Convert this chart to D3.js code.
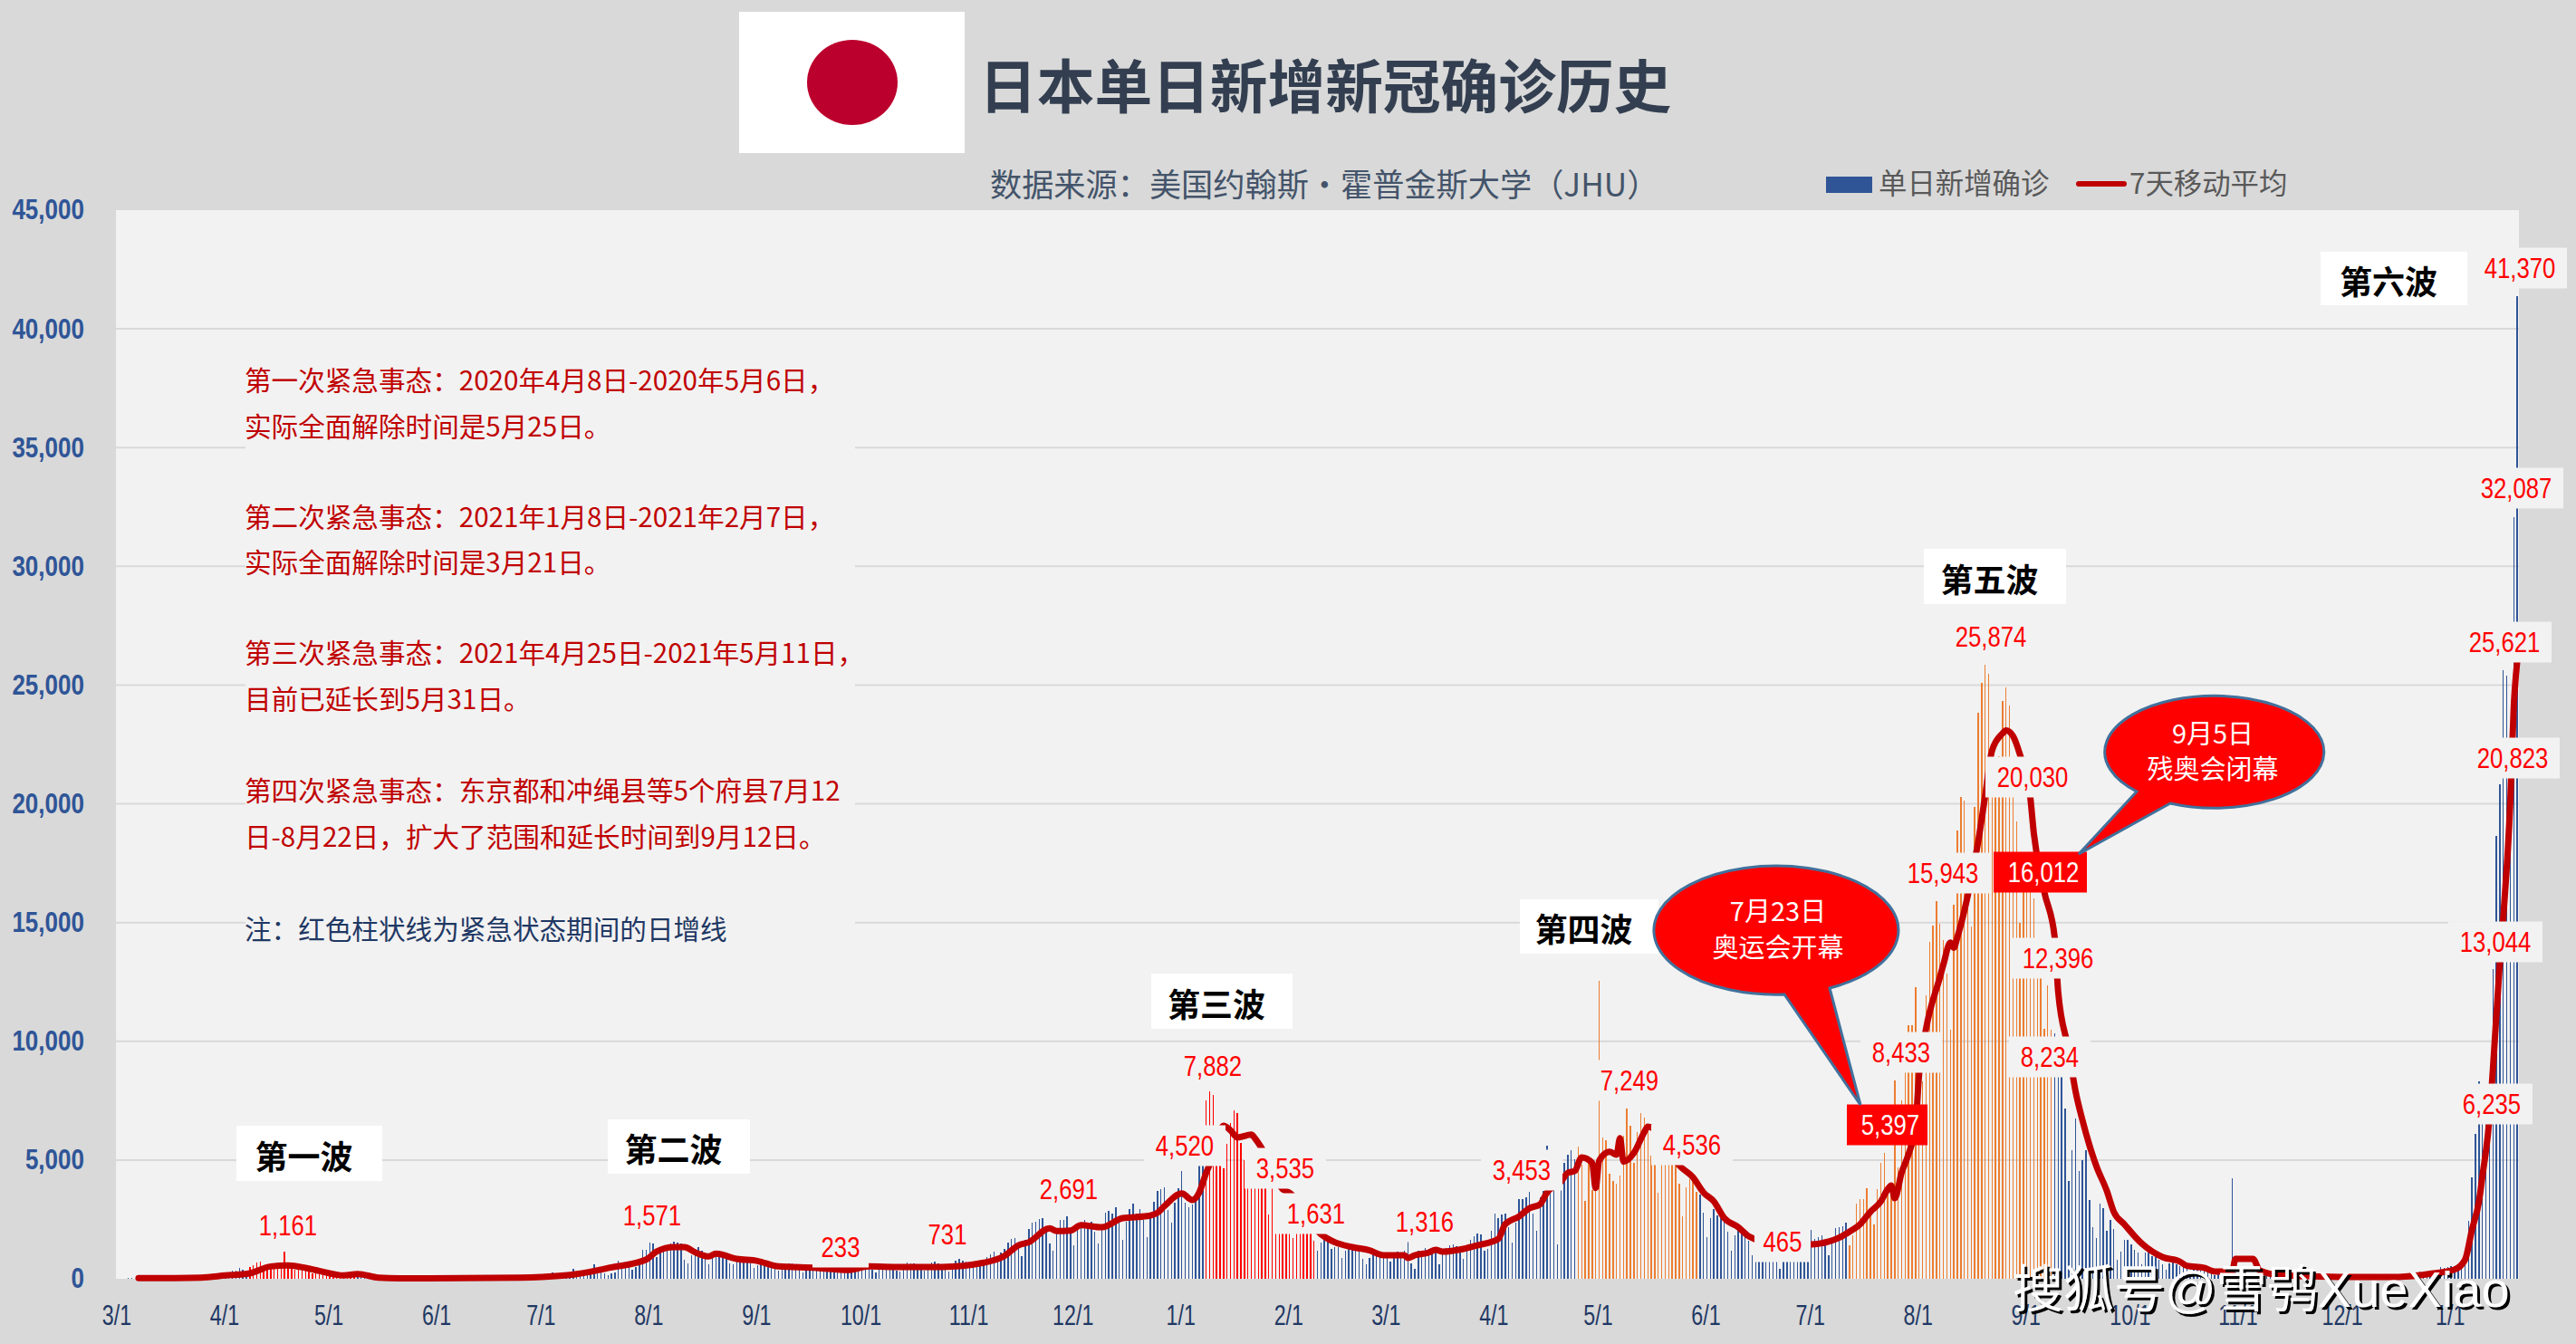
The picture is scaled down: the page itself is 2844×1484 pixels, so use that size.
<!DOCTYPE html>
<html>
<head>
<meta charset="utf-8">
<script src="https://cdn.jsdelivr.net/npm/d3@7"></script>
<style>
  html,body { margin:0; padding:0; background:#d9d9d9; }
  svg { display:block; }
  text { font-family:"Liberation Sans","Noto Sans CJK SC",sans-serif; }
  .cjk { font-family:"Noto Sans CJK SC",sans-serif; }
</style>
</head>
<body>
<svg></svg>
<script>
// daily new cases
const mar20 = [0,10,15,20,25,10,30,25,20,30,50,55,40,60,30,15,40,40,35,45,40,35,40,60,70,90,110,115,140,90,220];
const apr20 = [240,270,330,360,450,380,250,500,580,700,720,520,400,490,550,580,620,1161,620,420,370,390,430,380,340,240,210,230,240,220];
const may20 = [190,240,200,130,90,100,120,100,90,100,90,60,50,60,50,40,30,30,25,20,25,20,30,20,25,20,25,30,40,40,50];
const jun20 = [40,35,40,40,35,35,30,25,25,30,40,45,40,45,50,45,45,50,60,60,55,45,55,60,70,70,90,100,85,90];
const jul20 = [110,120,190,260,130,100,190,200,230,430,220,140,150,180,420,620,450,260,240,150,230,260,780,540,580,480,380,500,850,1230,1220];
const aug20 = [1510,1480,900,1240,1350,1400,1480,1571,1530,1480,800,650,1000,1100,1320,1180,820,600,1000,1150,1180,1020,950,650,620,850,900,880,800,640,450];
const sep20 = [560,750,780,690,660,580,330,540,600,640,660,580,480,270,450,560,610,590,560,490,310,290,330,540,620,520,480,260,450,580];
const oct20 = [640,580,590,380,280,520,600,620,590,510,360,300,520,680,650,660,530,380,340,540,680,720,650,580,420,320,620,780,820,780,720];
const nov20 = [600,480,650,620,700,900,1020,1150,760,1100,1250,1530,1660,1720,1440,950,1650,2100,2350,2400,2500,2555,2000,1480,1200,2000,2480,2480,2620,1980];
const dec20 = [1420,2060,2350,2480,2350,2420,2000,1500,2200,2790,2870,2750,3020,2370,1630,2410,2940,3170,2750,2940,2480,1750,2550,3240,3690,3760,3860,2900,2370,3190,3825];
const jan21 = [4520,3190,3000,3130,3280,5000,5500,7510,7882,7740,6200,5000,4650,5670,6560,7100,6980,5730,5000,5000,5000,5000,5000,5000,5000,2700,4500,3000,3000,2700,2700];
const feb21 = [2000,1700,2400,2600,2400,2300,2000,1600,1200,1530,1790,1600,1260,1340,1340,895,1200,1300,1240,1350,1230,830,600,870,1050,1090,1080,960];
const mar21 = [1010,720,1020,1150,1100,1170,1560,650,430,1180,1200,1290,1270,1210,1170,620,1100,1300,1400,1450,1380,1150,820,1300,1650,1800,1900,1850,1200,1270,2030];
const apr21 = [2760,2540,2695,2730,2160,1510,2350,3370,3370,3430,3650,2730,2030,3430,3690,5590,4600,4300,1460,4770,4890,5240,5430,5050,5550,4800,3270,5000,3720,4300];
const may21 = [12530,5940,5850,4410,4130,4000,4360,6010,7180,6440,4870,6190,6990,6800,6160,5200,5000,3620,5100,5300,5200,5000,5000,4000,2640,3850,4190,4280,3650,3560,2800];
const jun21 = [1740,2570,2920,2670,2540,2410,1970,1170,1820,2030,1900,1780,1590,1000,1200,1500,1700,1800,1600,1400,1000,420,1300,1600,1700,1650,1500,1000,1400,1700];
const jul21 = [2070,1690,1740,1820,1400,980,1525,2120,2160,2220,2380,1400,1840,3150,3360,3360,3815,2800,2275,3760,4865,5300,3850,3675,8365,4700,7525,9000,10675,10675,12285];
const aug21 = [9000,8300,11935,14175,14875,15890,14960,14260,12860,10500,15750,18860,20300,20125,17000,14840,19860,23850,25110,25874,25460,21000,21000,22000,24325,24920,24150,21500,19250,15000,16500];
const sep21 = [17000,16700,16000,13800,12800,10530,12340,10500,10325,8600,8500,7175,4110,5425,6740,4550,4990,5425,3325,2190,1715,3150,2975,2010,2485,2100,800,1130,1650,1650];
const oct21 = [1440,1230,1120,620,1100,1200,960,900,800,620,370,630,700,620,520,480,430,230,370,470,360,350,320,290,150,290,340,270,290,4220,270];
const nov21 = [130,220,270,230,180,190,150,90,130,190,180,170,150,130,70,120,130,130,130,120,70,60,130,110,130,120,130,110,80,120];
const dec21 = [130,110,130,120,110,130,100,130,160,180,170,130,110,140,180,200,190,150,120,200,260,270,300,320,280,200,270,380,510,450,500];
const jan22 = [540,500,540,800,1120,2440,4285,6100,8300,7000,7500,8000,13044,18630,20823,25621,25400,22000,32087,41370];

const monthly = [
  ["2020-03",mar20],["2020-04",apr20],["2020-05",may20],["2020-06",jun20],["2020-07",jul20],["2020-08",aug20],
  ["2020-09",sep20],["2020-10",oct20],["2020-11",nov20],["2020-12",dec20],["2021-01",jan21],["2021-02",feb21],
  ["2021-03",mar21],["2021-04",apr21],["2021-05",may21],["2021-06",jun21],["2021-07",jul21],["2021-08",aug21],
  ["2021-09",sep21],["2021-10",oct21],["2021-11",nov21],["2021-12",dec21],["2022-01",jan22]
];

// 7 day average
const maWave1 = [["2020-03-07",25],["2020-03-25",50],["2020-04-01",140],["2020-04-08",230],["2020-04-14",520],["2020-04-19",560],["2020-04-24",460],["2020-04-28",330],["2020-05-05",140],["2020-05-09",200],["2020-05-15",50],["2020-05-21",20],["2020-06-25",50],["2020-07-01",80],["2020-07-11",200],["2020-07-21",480],["2020-07-31",810],["2020-08-03",1150],["2020-08-08",1335],["2020-08-11",1335],["2020-08-14",1120],["2020-08-18",940],["2020-08-20",1055],["2020-08-26",840],["2020-09-01",750],["2020-09-07",520],["2020-09-18",460],["2020-09-27",370],["2020-10-03",520],["2020-10-12",500],["2020-10-24",500],["2020-11-05",675],["2020-11-11",960],["2020-11-15",1410],["2020-11-18",1540],["2020-11-24",2130],["2020-11-26",2010],["2020-11-30",2030],["2020-12-03",2260],["2020-12-09",2170],["2020-12-15",2555],["2020-12-22",2640],["2020-12-25",2780],["2020-12-27",3060]];
const maWave3 = [["2021-01-01",3590],["2021-01-04",3320],["2021-01-06",3630],["2021-01-08",4460],["2021-01-10",5160],["2021-01-13",6445],["2021-01-15",6250],["2021-01-17",5950],["2021-01-21",6075],["2021-01-22",5920],["2021-01-24",5490],["2021-01-30",3775],["2021-02-01",3620],["2021-02-10",1880],["2021-02-14",1540],["2021-02-19",1335],["2021-02-24",1195],["2021-02-28",990],["2021-03-06",990],["2021-03-07",875],["2021-03-09",990],["2021-03-13",1105],["2021-03-15",1220],["2021-03-17",1145],["2021-03-23",1260],["2021-03-27",1410],["2021-04-02",1680],["2021-04-04",2300],["2021-04-08",2630],["2021-04-11",2975],["2021-04-14",3130],["2021-04-16",3635],["2021-04-20",4080],["2021-04-22",4460],["2021-04-24",4540]];
const maWave4 = [["2021-04-26",5110],["2021-04-29",4880],["2021-04-30",3825],["2021-05-01",4970],["2021-05-04",5350],["2021-05-06",5225],["2021-05-07",5920],["2021-05-08",4930],["2021-05-11",5300],["2021-05-14",6180],["2021-05-15",6410],["2021-05-19",6000],["2021-05-24",4780],["2021-05-28",4270],["2021-05-31",3635],["2021-06-03",3255],["2021-06-06",2555],["2021-06-10",2175],["2021-06-13",1790],["2021-06-20",1500],["2021-07-01",1450],["2021-07-06",1565],["2021-07-09",1730],["2021-07-12",1985]];
const maWave5 = [["2021-07-15",2290],["2021-07-18",2820],["2021-07-21",3255],["2021-07-23",3775],["2021-07-24",3925],["2021-07-25",3395],["2021-07-27",4480],["2021-07-29",5260],["2021-07-31",6480],["2021-08-01",8590],["2021-08-03",10520],["2021-08-07",12700],["2021-08-08",13230],["2021-08-10",14160],["2021-08-11",13940],["2021-08-12",14380],["2021-08-15",16130],["2021-08-18",18400],["2021-08-20",20330],["2021-08-22",22250],["2021-08-25",22960],["2021-08-26",23090],["2021-08-28",22860],["2021-08-30",22080],["2021-09-02",20250],["2021-09-03",18760],["2021-09-06",16300],["2021-09-09",14380],["2021-09-10",12090],["2021-09-13",9650],["2021-09-15",7895],["2021-09-17",6670],["2021-09-19",5620],["2021-09-21",4740],["2021-09-24",3700],["2021-09-26",2820],["2021-09-29",2300]];
const maWave6 = [["2021-10-04",1490],["2021-10-10",915],["2021-10-15",725],["2021-10-17",545],["2021-10-22",460],["2021-10-25",305],["2021-10-30",305],["2021-10-31",840],["2021-11-05",840],["2021-11-07",340],["2021-11-13",150],["2021-11-30",80],["2021-12-17",80],["2021-12-27",230],["2022-01-02",390],["2022-01-05",800],["2022-01-07",2075],["2022-01-09",3255],["2022-01-10",4320],["2022-01-12",6730],["2022-01-13",8800],["2022-01-15",13300],["2022-01-16",15240],["2022-01-18",20060],["2022-01-19",24070],["2022-01-20",26000]];

const yTicks = [0,5000,10000,15000,20000,25000,30000,35000,40000,45000];
const redPeriods = [["2020-04-08","2020-05-08"],["2021-01-08","2021-02-08"]];
const orangePeriods = [["2021-04-25","2021-05-29"],["2021-07-12","2021-09-08"]];

const titleText = "日本单日新增新冠确诊历史";
const sourceText = "数据来源：美国约翰斯·霍普金斯大学（JHU）";
const legendBar = "单日新增确诊";
const legendLine = "7天移动平均";
const noteLines = [
  "第一次紧急事态：2020年4月8日-2020年5月6日，","实际全面解除时间是5月25日。",
  "第二次紧急事态：2021年1月8日-2021年2月7日，","实际全面解除时间是3月21日。",
  "第三次紧急事态：2021年4月25日-2021年5月11日，","目前已延长到5月31日。",
  "第四次紧急事态：东京都和冲绳县等5个府县7月12","日-8月22日，扩大了范围和延长时间到9月12日。",
  "注：红色柱状线为紧急状态期间的日增线"
];
const waveNames = ["第一波","第二波","第三波","第四波","第五波","第六波"];
const peakNames = ["1,161","1,571","233","731","2,691","7,882","4,520","3,535","1,631","1,316","3,453","7,249","4,536","465","5,397","8,433","25,874","20,030","15,943","16,012","12,396","8,234","6,235","13,044","20,823","25,621","32,087","41,370"];

// layout of the annotations, separate from the values
const noteY = [418,469,569,619,719,770,871,922,1024];
const waveBoxes = [[261,1243,161,61],[671,1236,157,60],[1271,1075,156,61],[1678,993,153,60],[2124,606,157,61],[2562,278,162,59]];
const peakCenters = [[318,1353],[720,1342],[928,1377],[1046,1363],[1180,1313],[1339,1177],[1308,1265],[1419,1290],[1453,1340],[1573,1349],[1680,1292],[1799,1193],[1868,1264],[1968,1371],[2087,1242],[2099,1162],[2198,703],[2244,858],[2145,964],[2256,963],[2272,1058],[2263,1167],[2751,1219],[2755,1040],[2774,837],[2765,709],[2778,539],[2782,296]];
const filledPeaks = ["5,397","16,012"];

let width = 2844, height = 1484,
    plotL = 128, plotR = 2781, plotT = 232, plotB = 1412,
    cols = {bg:"#d9d9d9", plot:"#f2f2f2", blue:"#2f5597", orange:"#ed7d31", red:"#ff0000", line:"#c00000", tick:"#2f5597", month:"#1f3864"};

let bars = monthly.flatMap(([ym,vals]) => vals.map((v,i) => ({day:`${ym}-${String(i+1).padStart(2,"0")}`, value:v}))),
    inside = (d,ranges) => ranges.some(r => d >= r[0] && d <= r[1]),
    xScale = d3.scaleBand().domain(bars.map(d=>d.day)).range([plotL,plotR]).paddingInner(0.63).paddingOuter(0.31),
    yScale = d3.scaleLinear().domain([0,45000]).range([plotB,plotT]),
    midX = d => xScale(d) + xScale.bandwidth()/2,
    maPoints = [...maWave1,...maWave3,...maWave4,...maWave5,...maWave6];

let svg = d3.select("svg").attr("width",width).attr("height",height);

svg.append("rect").attr("width",width).attr("height",height).attr("fill",cols.bg);
svg.append("rect").attr("x",plotL).attr("y",plotT).attr("width",plotR-plotL).attr("height",plotB-plotT).attr("fill",cols.plot);

// grid
svg.append("g").selectAll("line").data(yTicks.slice(1,-1)).enter().append("line")
   .attr("x1",plotL).attr("x2",plotR)
   .attr("y1",d=>yScale(d)).attr("y2",d=>yScale(d))
   .attr("stroke","#d9d9d9").attr("stroke-width",2);

// note panel hides the grid behind it
svg.append("rect").attr("x",271).attr("y",390).attr("width",673).attr("height",650).attr("fill",cols.plot);

// axes
let yAxis = svg.append("g").attr("transform","translate(93,0)")
   .call(d3.axisLeft(yScale).tickValues(yTicks).tickFormat(d3.format(",")).tickSize(0).tickPadding(0));
yAxis.select(".domain").remove();
yAxis.selectAll("text").attr("fill",cols.tick).attr("font-size",31).attr("font-weight",700)
     .attr("font-family","Liberation Sans").attr("transform","scale(0.84,1)");

let xAxis = svg.append("g").attr("transform",`translate(-1,${plotB})`)
   .call(d3.axisBottom(xScale).tickValues(bars.map(d=>d.day).filter(d=>d.endsWith("-01")))
           .tickFormat(d=>`${+d.slice(5,7)}/1`).tickSize(0).tickPadding(0));
xAxis.select(".domain").remove();
xAxis.selectAll("text").attr("fill",cols.month).attr("font-size",31).attr("font-family","Liberation Sans")
     .attr("y",40).attr("dy",0).attr("dominant-baseline","central").attr("transform","scale(0.75,1)");

// daily bars, crisp so thin bars keep their full colour
svg.append("g").attr("shape-rendering","crispEdges").selectAll("rect").data(bars).enter().append("rect")
   .attr("x",d=>xScale(d.day))
   .attr("y",d=>yScale(d.value))
   .attr("width",xScale.bandwidth())
   .attr("height",d=>plotB-yScale(d.value))
   .attr("fill",d=>inside(d.day,redPeriods) ? cols.red : inside(d.day,orangePeriods) ? cols.orange : cols.blue);

// moving average
svg.append("path").datum(maPoints)
   .attr("fill","none").attr("stroke",cols.line).attr("stroke-width",7)
   .attr("stroke-linejoin","round").attr("stroke-linecap","round")
   .attr("d",d3.line().x(d=>midX(d[0])).y(d=>yScale(d[1])).curve(d3.curveMonotoneX));

// peak labels sit on boxes that cover bars and line
let peaks = svg.append("g").selectAll("g").data(peakNames).enter().append("g")
   .attr("transform",(d,i)=>`translate(${peakCenters[i][0]},${peakCenters[i][1]})`);
peaks.append("rect")
   .attr("x",d=>d=="5,397" ? -48 : d=="16,012" ? -55 : -(d.length*7+10))
   .attr("y",-22.5)
   .attr("width",d=>d=="5,397" ? 89 : d=="16,012" ? 103 : d.length*14+20)
   .attr("height",45)
   .attr("fill",d=>filledPeaks.includes(d) ? cols.red : cols.plot);
peaks.append("text").text(d=>d)
   .attr("text-anchor","middle").attr("dominant-baseline","central")
   .attr("transform","scale(0.83,1)")
   .attr("font-size",31).attr("font-family","Liberation Sans")
   .attr("fill",d=>filledPeaks.includes(d) ? "#ffffff" : cols.red);

// wave tags
let waves = svg.append("g").selectAll("g").data(waveNames).enter().append("g");
waves.append("rect")
   .attr("x",(d,i)=>waveBoxes[i][0]).attr("y",(d,i)=>waveBoxes[i][1])
   .attr("width",(d,i)=>waveBoxes[i][2]).attr("height",(d,i)=>waveBoxes[i][3])
   .attr("fill","#ffffff");
waves.append("text").text(d=>d).attr("class","cjk")
   .attr("x",(d,i)=>waveBoxes[i][0]+waveBoxes[i][2]/2-6).attr("y",(d,i)=>waveBoxes[i][1]+waveBoxes[i][3]/2+1)
   .attr("text-anchor","middle").attr("dominant-baseline","central")
   .attr("font-size",36).attr("font-weight",700).attr("fill","#000000");

// note text
svg.append("g").selectAll("text").data(noteLines).enter().append("text")
   .text(d=>d).attr("class","cjk")
   .attr("x",270).attr("y",(d,i)=>noteY[i])
   .attr("dominant-baseline","central").attr("font-size",29.6)
   .attr("fill",(d,i)=>i==8 ? "#1f3864" : "#c00000");

// callouts
let callouts = [
  {d:"M2054,1220L1970,1098A135,71 0 1 1 2020,1091Z", x:1963, lines:[["7月23日",1004],["奥运会开幕",1044]]},
  {d:"M2295,943L2359,874A121,62 0 1 1 2396,887Z", x:2443, lines:[["9月5日",808],["残奥会闭幕",847]]}
];
callouts.forEach(c => {
  svg.append("path").attr("d",c.d).attr("fill",cols.red).attr("stroke","#41719c").attr("stroke-width",3).attr("stroke-linejoin","miter");
  c.lines.forEach(l => svg.append("text").text(l[0]).attr("class","cjk")
     .attr("x",c.x).attr("y",l[1]).attr("text-anchor","middle").attr("dominant-baseline","central")
     .attr("font-size",29).attr("fill","#ffffff"));
});

// header
svg.append("rect").attr("x",816).attr("y",13).attr("width",249).attr("height",156).attr("fill","#ffffff");
svg.append("ellipse").attr("cx",941).attr("cy",91).attr("rx",50).attr("ry",47).attr("fill","#bc002d");
svg.append("text").text(titleText).attr("class","cjk").attr("x",1081).attr("y",91)
   .attr("dominant-baseline","central").attr("font-size",63.7).attr("font-weight",700).attr("fill","#333f50");
svg.append("text").text(sourceText).attr("class","cjk").attr("x",1093).attr("y",201)
   .attr("dominant-baseline","central").attr("font-size",35.2).attr("fill","#44546a");

// legend
svg.append("rect").attr("x",2016).attr("y",195).attr("width",51).attr("height",18).attr("fill",cols.blue);
svg.append("text").text(legendBar).attr("class","cjk").attr("x",2074).attr("y",200)
   .attr("dominant-baseline","central").attr("font-size",31.4).attr("fill","#595959");
svg.append("line").attr("x1",2295).attr("x2",2345).attr("y1",203).attr("y2",203)
   .attr("stroke",cols.line).attr("stroke-width",6).attr("stroke-linecap","round");
svg.append("text").text(legendLine).attr("class","cjk").attr("x",2351).attr("y",200)
   .attr("dominant-baseline","central").attr("font-size",31.4).attr("fill","#595959");

// watermark
[["#000000",3,3],["#ffffff",0,0]].forEach(s => {
  svg.append("text").text("搜狐号@雪鸮XueXiao")
     .attr("x",2222+s[1]).attr("y",1423+s[2])
     .attr("dominant-baseline","central").attr("font-size",56)
     .attr("font-family","Liberation Sans,Noto Sans CJK SC").attr("fill",s[0]);
});
</script>
</body>
</html>
